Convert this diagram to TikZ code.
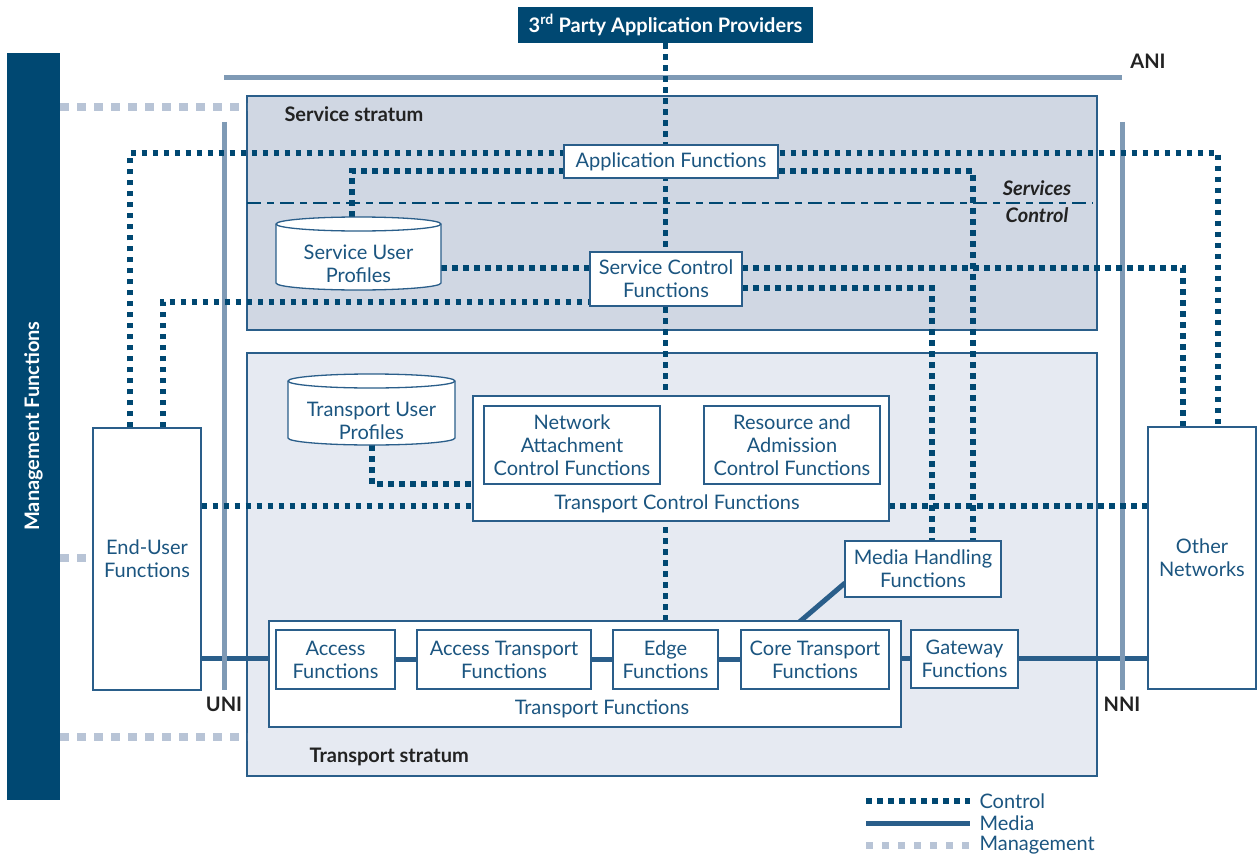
\documentclass[tikz,border=0pt]{standalone}
\usepackage{fontspec}
\setmainfont{Lato}
\usetikzlibrary{calc}
\definecolor{dkblue}{HTML}{004872}
\definecolor{mdblue}{HTML}{2A5E8A}
\definecolor{txblue}{HTML}{1B5580}
\definecolor{gline}{HTML}{7F9AB5}
\definecolor{mgmt}{HTML}{B8C4D6}
\definecolor{svfill}{HTML}{D0D7E3}
\definecolor{trfill}{HTML}{E6EAF2}
\definecolor{lbl}{HTML}{222222}
\tikzset{
  fbox/.style={draw=mdblue, line width=1.3pt, fill=white, text=txblue, align=center, inner sep=0pt,
     font=\fontsize{20}{23}\selectfont},
  ctrl/.style={draw=dkblue, line width=5.5pt, dash pattern=on 5.5pt off 5.5pt},
  media/.style={draw=mdblue, line width=5pt},
  mgmtline/.style={draw=mgmt, line width=8pt, dash pattern=on 9pt off 8pt},
  iface/.style={draw=gline, line width=5pt},
  boldlbl/.style={text=lbl, font=\bfseries\fontsize{20}{23}\selectfont},
  txt/.style={text=txblue, align=center, font=\fontsize{20}{23}\selectfont},
  stratum/.style={draw=mdblue, line width=1.3pt},
}
\begin{document}
\begin{tikzpicture}[x=1pt,y=-1pt]
\useasboundingbox (0,0) rectangle (1257,856);
% strata
\draw[stratum, fill=svfill] (247,96) rectangle (1097,330);
\draw[stratum, fill=trfill] (247,353) rectangle (1097,776);
\node[boldlbl, anchor=west] at (281,114) {Service stratum};
\node[boldlbl, anchor=west] at (306,757) {Transport stratum};
\draw[dkblue, line width=2pt, dash pattern=on 14pt off 6pt on 7pt off 6pt] (247,203) -- (1093,203);
\node[boldlbl, font=\bfseries\itshape\fontsize{20}{23}\selectfont] at (1037,188) {Services};
\node[boldlbl, font=\bfseries\itshape\fontsize{20}{23}\selectfont] at (1037,215) {Control};

% management bar
\fill[dkblue] (7,53) rectangle (60,800);
\node[rotate=90, text=white, font=\bfseries\fontsize{20}{23}\selectfont] (mgf) at (33.5,426) {Management Functions};
\coordinate (mgr) at (60,0);

% nodes (shapes for geometry)
\node[fbox, minimum width=108, minimum height=262] (euf) at (147,559) {End-User\\Functions};
\node[fbox, minimum width=108, minimum height=262] (on) at (1202,558) {Other\\Networks};
\node[fill=dkblue, text=white, font=\bfseries\fontsize{20}{23}\selectfont, minimum width=295, minimum height=36, inner sep=0pt] (tp) at (665.5,25) {3\textsuperscript{rd} Party Application Providers};
\node[minimum width=165, minimum height=73, inner sep=0pt] (sup) at (358.5,253.5) {};
\node[minimum width=167, minimum height=71, inner sep=0pt] (tup) at (371.5,409.5) {};

% ANI / UNI / NNI
\draw[iface] (224,78) -- (1122,78);
\node[boldlbl] at (1148,61) {ANI};

% management dashed lines
\draw[mgmtline] (mgr |- 0,107) -- (247,107);
\draw[mgmtline] (mgr |- 0,558) -- (euf.west |- 0,558);
\draw[mgmtline] (mgr |- 0,737) -- (247,737);

% media line
\coordinate (m) at (0,658);
\draw[media] (euf.east |- m) -- (on.west |- m);
\coordinate (mh1) at (790,630);
\coordinate (mh2) at (845,583);
\draw[media] (mh1) -- (mh2);

\draw[iface] (224,122) -- (224,690);
\draw[iface] (1122,122) -- (1122,690);
\node[boldlbl] at (224,704) {UNI};
\node[boldlbl] at (1122,704) {NNI};

% bend points
\coordinate (b1) at (130,153);
\coordinate (b2) at (1218,153);
\coordinate (b3) at (352,171);
\coordinate (b4) at (973,171);
\coordinate (b5) at (0,268);
\coordinate (b6) at (1183,268);
\coordinate (b7) at (163,302);
\coordinate (b8) at (932,288);
\coordinate (b9) at (372,484);
\coordinate (b10) at (0,506);

% placeholders for control box geometry
\node[minimum width=214, minimum height=33, inner sep=0pt] (afg) at (671,161.5) {};
\node[minimum width=152, minimum height=54, inner sep=0pt] (scfg) at (666,279) {};
\node[minimum width=416, minimum height=125, inner sep=0pt] (tcfg) at (681,458.5) {};
\node[minimum width=156, minimum height=56, inner sep=0pt] (mhfg) at (923,569) {};
\node[minimum width=105, minimum height=59, inner sep=0pt] (edgeg) at (665.5,659.5) {};

% control lines
\draw[ctrl] (tp.south) -- (edgeg.north);
\draw[ctrl] (euf.north -| b1) -- (b1) -- (b2) -- (on.north -| b2);
\draw[ctrl] (sup.north -| b3) -- (b3) -- (b4) -- (mhfg.north -| b4);
\draw[ctrl] (sup.east |- b5) -- (scfg.west |- b5);
\draw[ctrl] (scfg.east |- b6) -- (b6) -- (on.north -| b6);
\draw[ctrl] (euf.north -| b7) -- (b7) -- (scfg.west |- b7);
\draw[ctrl] (scfg.east |- b8) -- (b8) -- (mhfg.north -| b8);
\draw[ctrl] (tup.south -| b9) -- (b9) -- (tcfg.west |- b9);
\draw[ctrl] (euf.east |- b10) -- (tcfg.west |- b10);
\draw[ctrl] (tcfg.east |- b10) -- (on.west |- b10);

% cylinders
\draw[mdblue, line width=1.3pt, fill=white] (276,224) -- (276,283) arc[start angle=180, end angle=0, x radius=82.5, y radius=7] -- (441,224) arc[start angle=0, end angle=-180, x radius=82.5, y radius=7] -- cycle;
\draw[mdblue, line width=1.3pt] (276,224) arc[start angle=180, end angle=0, x radius=82.5, y radius=7];
\node[txt] (supt) at (358.5,264) {Service User\\Profiles};
\draw[mdblue, line width=1.3pt, fill=white] (288,381) -- (288,438) arc[start angle=180, end angle=0, x radius=83.5, y radius=7] -- (455,381) arc[start angle=0, end angle=-180, x radius=83.5, y radius=7] -- cycle;
\draw[mdblue, line width=1.3pt] (288,381) arc[start angle=180, end angle=0, x radius=83.5, y radius=7];
\node[txt] (tupt) at (371.5,421) {Transport User\\Profiles};

% boxes
\node[fbox, minimum width=214, minimum height=33] (af) at (671,161.5) {Application Functions};
\node[fbox, minimum width=152, minimum height=54] (scf) at (666,279) {Service Control\\Functions};
\node[fbox, minimum width=416, minimum height=125] (tcf) at (681,458.5) {};
\node[txt] (tcfl) at (677,504) {Transport Control Functions};
\node[fbox, minimum width=176, minimum height=78] (nacf) at (572,445) {Network\\Attachment\\Control Functions};
\node[fbox, minimum width=176, minimum height=78] (racf) at (792,445) {Resource and\\Admission\\Control Functions};
\node[fbox, minimum width=156, minimum height=56] (mhf) at (923,569) {Media Handling\\Functions};
\node[fbox, minimum width=632, minimum height=106] (tf) at (585,674) {};
\node[txt] (tfl) at (602,709) {Transport Functions};
\node[fbox, minimum width=119, minimum height=59] (acc) at (335.5,659.5) {Access\\Functions};
\node[fbox, minimum width=174, minimum height=59] (atf) at (504,659.5) {Access Transport\\Functions};
\node[fbox, minimum width=105, minimum height=59] (edge) at (665.5,659.5) {Edge\\Functions};
\node[fbox, minimum width=148, minimum height=59] (ctf) at (815,659.5) {Core Transport\\Functions};
\node[fbox, minimum width=107, minimum height=58] (gw) at (964.5,659) {Gateway\\Functions};
% media links between boxes inside transport functions
\draw[media] (acc.east) -- (atf.west);
\draw[media] (atf.east) -- (edge.west);
\draw[media] (edge.east) -- (ctf.west);

% legend
\coordinate (l1) at (866,801);
\coordinate (l2) at (970,801);
\draw[ctrl] (l1) -- (l2);
\node[txt, anchor=west] (lc) at (976,801) {Control};
\coordinate (l3) at (866,823);
\coordinate (l4) at (970,823);
\draw[media] (l3) -- (l4);
\node[txt, anchor=west] (lm) at (976,823) {Media};
\coordinate (l5) at (866,845);
\coordinate (l6) at (970,845);
\draw[mgmtline, line width=7pt, dash pattern=on 7pt off 9pt] (l5) -- (l6);
\node[txt, anchor=west] (lg) at (976,845) {Management};
\end{tikzpicture}
\end{document}
